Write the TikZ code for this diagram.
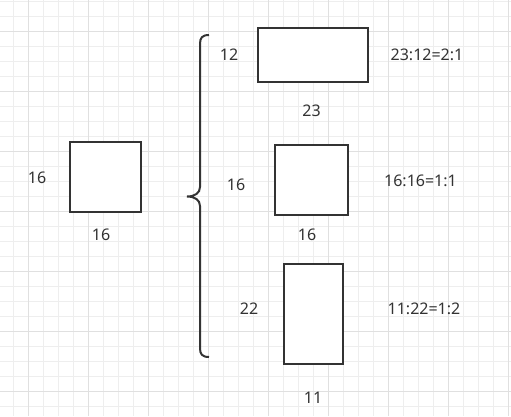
\documentclass[tikz,border=0pt]{standalone}
\usepackage{fontspec}
\setmainfont{Noto Sans}
\definecolor{ink}{HTML}{333333}
\definecolor{gminor}{HTML}{EEEEEE}
\definecolor{gmajor}{HTML}{E0E0E0}
\begin{document}
\begin{tikzpicture}[x=1pt,y=-1pt,
  box/.style={draw=ink,line width=2pt,fill=white,inner sep=0pt,outer sep=0pt},
  lbl/.style={text=ink,font=\fontsize{16}{19}\selectfont,inner sep=0pt}]
\useasboundingbox (0,0) rectangle (511,416);
\fill[white] (0,0) rectangle (511,416);
% grid
\foreach \k in {0,...,33} {
  \draw[gminor,line width=1pt] ({13.3+15*\k},0) -- ({13.3+15*\k},416);
}
\foreach \k in {0,...,27} {
  \draw[gminor,line width=1pt] (0,{1.7+15*\k}) -- (511,{1.7+15*\k});
}
\foreach \k in {0,...,8} {
  \draw[gmajor,line width=1pt] ({28.3+60*\k},0) -- ({28.3+60*\k},416);
}
\foreach \k in {0,...,6} {
  \draw[gmajor,line width=1pt] (0,{31.7+60*\k}) -- (511,{31.7+60*\k});
}
% left square
\node[box,minimum width=71,minimum height=70] (sq) at (105.5,177) {};
\node[lbl] (sqh) at (37,178) {16};
\node[lbl] (sqw) at (101,235) {16};
% brace
\draw[ink,line width=2pt] (209,35) .. controls (202,35) and (200,38) .. (200,44)
  -- (200,187) .. controls (200,193) and (195,196.5) .. (187,196.5)
  .. controls (195,196.5) and (200,200) .. (200,206)
  -- (200,348) .. controls (200,354) and (202,357) .. (209,357);
% top rect
\node[box,minimum width=110.5,minimum height=54] (r1) at (313,54.7) {};
\node[lbl] (r1h) at (229,55) {12};
\node[lbl] (r1w) at (311.5,110.5) {23};
\node[lbl] (r1r) at (427,55) {23:12=2:1};
% middle square
\node[box,minimum width=72.5,minimum height=69.5] (r2) at (311.3,180) {};
\node[lbl] (r2h) at (236,185) {16};
\node[lbl] (r2w) at (307,235) {16};
\node[lbl] (r2r) at (420.5,181) {16:16=1:1};
% bottom rect
\node[box,minimum width=59,minimum height=99.5] (r3) at (313.5,313.8) {};
\node[lbl] (r3h) at (249,308.5) {22};
\node[lbl] (r3w) at (313,398) {11};
\node[lbl] (r3r) at (424,308.5) {11:22=1:2};
\end{tikzpicture}
\end{document}
